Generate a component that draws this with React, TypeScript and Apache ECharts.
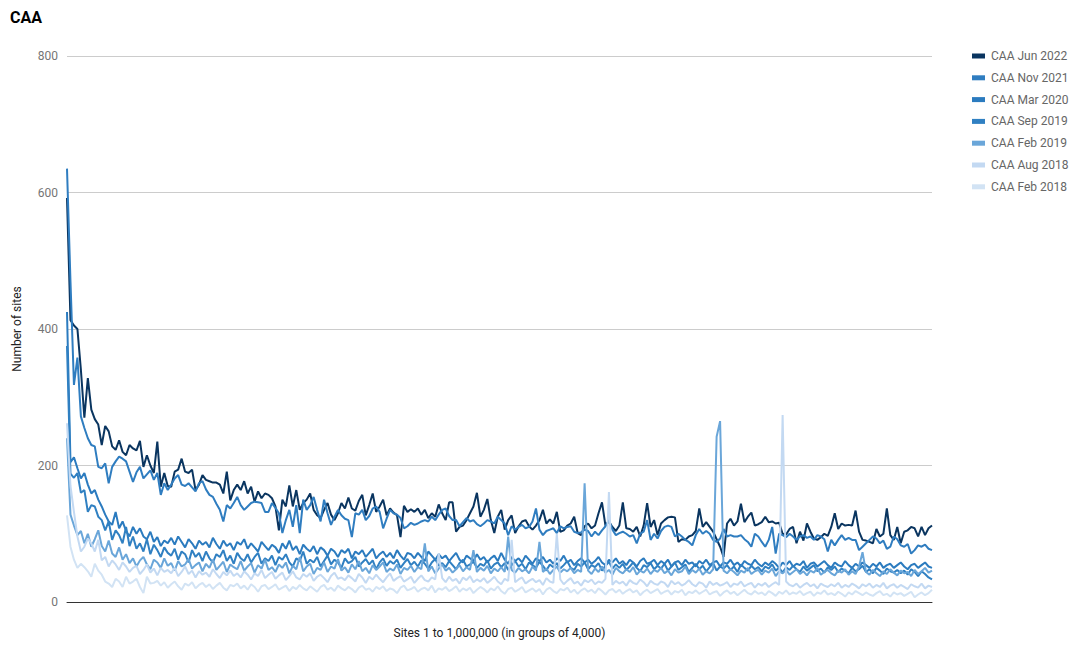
import React, { useEffect, useRef } from "react";
import * as echarts from "echarts";

const seriesNames = ["CAA Jun 2022", "CAA Nov 2021", "CAA Mar 2020", "CAA Sep 2019", "CAA Feb 2019", "CAA Aug 2018", "CAA Feb 2018"];
const seriesColors = ["#0a3560", "#2f7dc0", "#2b7bbf", "#3080c2", "#6aa6d9", "#c3d9f2", "#d2e3f4"];
const yTicks = [0, 200, 400, 600, 800];

const jun2022 = [
  592, 413, 405, 400, 340, 270, 328, 282, 268, 260,
  230, 258, 250, 228, 223, 237, 220, 215, 230, 225,
  222, 236, 198, 215, 200, 189, 235, 169, 189, 170,
  169, 191, 194, 210, 191, 189, 194, 164, 172, 186,
  179, 177, 175, 175, 172, 159, 191, 149, 164, 172,
  164, 177, 159, 169, 147, 162, 152, 159, 157, 152,
  140, 105, 150, 140, 171, 140, 164, 135, 145, 150,
  159, 135, 127, 123, 135, 145,
  128, 120, 130, 145, 137, 153, 137, 134, 148, 157,
  127, 142, 159, 132, 140, 150, 127, 137, 131, 127,
  95, 141, 132, 136, 132, 137, 128, 135, 123, 130,
  125, 143, 130, 120, 146, 146, 103, 110, 112, 120,
  130, 140, 160, 125, 135, 151, 120, 101, 125, 135,
  106, 120, 127, 101, 111, 118, 120, 111, 106, 112,
  120, 135, 115, 121, 115, 132, 103, 105, 112, 115,
  125, 101, 98, 111, 115, 108, 112, 130, 146, 112,
  118, 110, 104, 112, 146, 108,
  107, 103, 110, 96, 112, 145, 110, 120, 98, 115,
  120, 124, 125, 124, 88, 92, 91, 96, 98, 104,
  137, 110, 117, 110, 103, 92, 81, 66, 115, 122,
  112, 118, 144, 117, 125, 131, 112, 114, 117, 125,
  117, 118, 115, 116, 100, 99, 107, 110,
  86, 103, 90, 115, 103, 93, 91, 95, 100, 97,
  110, 130, 107, 115, 112, 113, 112, 134, 103, 91,
  90, 88, 86, 107, 96, 100, 137, 98, 91, 110,
  86, 103, 105, 110, 108, 96, 110, 98, 108, 112,
];

const nov2021 = [
  635, 470, 318, 358, 272, 255, 240, 230, 228, 198,
  196, 203, 174, 198, 206, 213, 210, 206, 191, 176,
  190, 198, 181, 187, 193, 179, 189, 157, 174, 164,
  172, 181, 186, 172, 170, 174, 168, 162, 174, 177,
  165, 157, 154, 144, 135, 118, 142, 137, 145, 154,
  142, 135, 140, 145, 147, 146, 145, 132, 132, 145,
  138, 130, 101, 120, 135, 110, 142, 101, 150, 135,
  142, 154, 135, 118, 150, 130, 113, 125, 135,
  127, 122, 120, 95, 130, 128, 135, 120, 126, 137,
  140, 132, 108, 122, 135, 130, 128, 123, 108, 111,
  116, 113, 115, 118, 120, 118, 125, 120, 128, 135,
  137, 126, 120, 120, 111, 117, 123, 118, 120, 114,
  111, 115, 120, 118, 115, 125, 120, 115, 98, 111,
  106, 110, 113, 108, 110, 118, 137, 106, 98, 104,
  106, 108, 101, 111, 108, 110, 111, 103, 101, 102,
  106, 104, 96, 103, 98, 105, 111, 120, 106, 98,
  101, 103, 100,
  96, 98, 86, 100, 103, 120, 91, 100, 93, 104,
  110, 112, 110, 96, 100, 96, 91, 88, 83, 98,
  107, 100, 104, 100, 91, 88, 93, 107, 96, 98,
  96, 96, 98, 92, 88, 81, 100, 96, 88, 81,
  91, 110, 71, 100, 98, 95, 100, 96, 91, 96,
  98, 94, 96, 91, 98, 96, 92, 74, 91, 83,
  91, 98, 91, 94, 91, 91, 76, 81, 86, 91,
  96, 93, 86, 90, 78, 81, 96, 92, 83, 81,
  85, 71, 76, 83, 81, 84, 78, 76,
];

const mar2020 = [
  425, 205, 212, 196, 181, 189, 172, 159, 164, 150,
  140, 128, 118, 113, 132, 108, 118, 104, 96, 110,
  100, 108, 96, 92, 103, 88, 95, 82, 90, 86,
  94, 84, 96, 88, 80, 92, 86, 78, 90, 84,
  88, 80, 94, 85, 78, 90, 82, 86, 76, 88,
  84, 92, 78, 86, 80, 74, 88, 82, 76, 84,
  80, 72, 86, 78, 90, 76, 82, 70, 84, 78,
  74, 82, 70, 80, 76, 68, 78, 74, 66, 76,
  72, 78, 64, 74, 70, 76, 66, 72, 78, 64,
  70, 74, 66, 72, 64, 76, 68, 62, 72, 70,
  64, 72, 66, 60, 74, 68, 62, 70, 64, 68,
  60, 66, 72, 62, 58, 68, 64, 60, 70, 62,
  66, 58, 64, 68, 60, 72, 62, 56, 66, 60,
  64, 58, 68, 62, 56, 64, 60, 66, 58, 62,
  56, 64, 60, 68, 58, 62, 54, 60, 64, 58,
  62, 56, 60, 66, 58, 54, 62, 58, 64, 56,
  60, 54, 62, 58, 52, 60, 64, 56, 58, 62,
  54, 60, 56, 62, 52, 58, 60, 54, 62, 56,
  58, 52, 60, 56, 62, 54, 58, 60, 52, 58,
  56, 62, 54, 58, 52, 60, 56, 54, 62, 56,
  52, 58, 54, 60, 56, 50, 58, 54, 60, 52,
  56, 54, 60, 50, 56, 58, 52, 56, 60, 54,
  50, 58, 54, 52, 60, 54, 50, 56, 52, 58,
  54, 50, 56, 52, 58, 50, 54, 56, 50, 54,
  58, 52, 48, 54, 56, 50, 54, 58, 52, 50,
];

const sep2019 = [
  375, 188, 182, 189, 160, 164, 132, 142, 140, 125,
  120, 105, 118, 91, 105, 98, 86, 110, 82, 96,
  78, 86, 74, 92, 70, 84, 76, 66, 80, 72,
  68, 78, 62, 74, 70, 58, 76, 66, 72, 60,
  74, 64, 58, 70, 66, 76, 60, 68, 56, 72,
  64, 60, 70, 58, 66, 72, 56, 64, 60, 68,
  54, 66, 62, 70, 58, 52, 64, 60, 74, 56,
  62, 58, 66, 52, 60, 68, 55, 62, 58, 50,
  64, 57, 60, 66, 52, 58, 63, 55, 61, 48,
  58, 64, 53, 60, 56, 62, 50, 57, 63, 54,
  59, 52, 61, 56, 49, 58, 63, 53, 57, 51,
  60, 54, 48, 57, 62, 52, 55, 59, 50, 56,
  53, 61, 49, 55, 58, 51, 57, 47, 54, 60,
  52, 56, 48, 58, 54, 50, 59, 53, 46, 55,
  51, 57, 49, 54, 60, 50, 47, 56, 52, 58,
  48, 54, 51, 57, 46, 53, 59, 49, 55, 50,
  56, 47, 52, 58, 50, 45, 54, 51, 57, 48,
  53, 49, 56, 46, 52, 58, 47, 51, 55, 44,
  50, 56, 48, 53, 45, 51, 57, 46, 52, 49,
  54, 47, 52, 44, 55, 50, 46, 53, 48, 51,
  45, 52, 49, 55, 46, 50, 43, 51, 47, 53,
  48, 44, 52, 46, 50, 54, 45, 49, 43, 51,
  47, 52, 44, 49, 46, 42, 50, 45, 48, 53,
  44, 48, 42, 50, 46, 41, 49, 45, 43, 47,
  42, 46, 40, 48, 44, 38, 45, 41, 36, 33,
];

const feb2019 = [
  240, 128, 112, 98, 104, 86, 100, 81, 92, 105,
  82, 74, 90, 71, 66, 80, 62, 70, 57, 64,
  52, 61, 66, 55, 48, 62, 58, 50, 64, 53,
  57, 46, 60, 52, 55, 63, 49, 54, 58, 45,
  56, 50, 62, 47, 53, 59, 44, 55, 51, 48,
  60, 46, 52, 57, 43, 54, 49, 62, 47, 51,
  44, 55, 50, 58, 42, 53, 48, 66, 45, 52,
  56, 41, 50, 47, 58, 44, 52, 49, 63, 46,
  51, 43, 55, 48, 60, 45, 50, 42, 54, 47,
  52, 58, 44, 49, 46, 55, 41, 50, 47, 53,
  44, 51, 48, 86, 45, 52, 42, 49, 55, 46,
  50, 43, 48, 54, 45, 51, 47, 76, 44, 50,
  46, 53, 42, 49, 45, 51, 44, 96, 47, 43,
  50, 45, 48, 42, 52, 46, 88, 44, 49, 41,
  47, 52, 43, 48, 45, 50, 42, 47, 44, 174,
  46, 41, 49, 44, 52, 43, 47, 40, 50, 45,
  42, 48, 44, 51, 40, 46, 43, 49, 41, 47,
  44, 50, 42, 46, 39, 48, 43, 45, 52, 41,
  47, 43, 49, 40, 45, 42, 48, 242, 265, 46,
  42, 48, 44, 39, 46, 43, 50, 41, 45, 47,
  40, 46, 43, 49, 38, 45, 42, 47, 40, 44,
  48, 41, 45, 39, 46, 43, 50, 40, 44, 47,
  42, 39, 46, 43, 48, 40, 45, 41, 52, 73,
  44, 40, 47, 42, 38, 45, 41, 48, 43, 39,
  46, 42, 44, 38, 47, 41, 45, 50, 43, 46,
];

const aug2018 = [
  262, 170, 132, 96, 74, 81, 93, 86, 74, 91,
  61, 66, 52, 61, 55, 47, 58, 52, 44, 50,
  53, 41, 47, 55, 43, 49, 39, 50, 44, 47,
  42, 50, 38, 44, 52, 41, 46, 36, 45, 40,
  43, 37, 48, 41, 35, 44, 39, 46, 38, 42,
  36, 45, 40, 33, 42, 38, 47, 35, 40, 44,
  34, 39, 43, 32, 38, 45, 36, 33, 41, 37,
  42, 31, 37, 40, 35, 29, 38, 43, 34, 36,
  32, 39, 35, 30, 41, 36, 28, 37, 33, 40,
  34, 29, 36, 42, 31, 35, 38, 30, 33, 37,
  28, 34, 39, 32, 30, 36, 33, 71, 35, 29,
  37, 31, 34, 27, 36, 32, 38, 29, 33, 30,
  35, 28, 32, 37, 30, 26, 34, 31, 91, 29,
  33, 36, 27, 31, 34, 29, 32, 25, 35, 30,
  28, 100, 33, 26, 31, 35, 27, 30, 24, 32,
  29, 33, 26, 30, 28, 34, 161, 25, 31, 27,
  30, 24, 32, 28, 26, 33, 29, 23, 31, 27,
  25, 30, 28, 22, 31, 26, 29, 24, 27, 32,
  26, 23, 29, 27, 21, 30, 25, 28, 24, 26,
  29, 22, 27, 25, 30, 23, 26, 28, 21, 27,
  24, 28, 22, 26, 29, 25, 274, 30, 25, 23,
  27, 21, 25, 28, 23, 26, 20, 27, 24, 22,
  26, 23, 28, 21, 25, 22, 27, 24, 20, 26,
  23, 27, 21, 25, 22, 28, 20, 24, 26, 21,
  25, 22, 19, 26, 23, 21, 27, 20, 24, 22,
];

const feb2018 = [
  127, 81, 62, 50, 56, 51, 45, 37, 56, 46,
  40, 30, 27, 22, 34, 30, 22, 37, 27, 30,
  34, 22, 13, 37, 27, 28, 31, 24, 29, 21,
  26, 30, 23, 18, 27, 24, 29, 20, 25, 28,
  22, 26, 19, 24, 28, 21, 17, 25, 23, 27,
  20, 24, 18, 26, 22, 15, 23, 25, 19, 22,
  26, 18, 21, 24, 16, 22, 19, 25, 20, 17,
  23, 19, 15, 22, 25, 18, 21, 16, 24, 20,
  17, 22, 19, 14, 21, 24, 18, 20, 15, 22,
  19, 23, 16, 20, 18, 13, 21, 24, 17, 19,
  22, 15, 19, 21, 17, 24, 14, 20, 18, 22,
  16, 19, 23, 15, 20, 17, 21, 13, 18, 22,
  19, 14, 20, 17, 23, 16, 12, 19, 21, 15,
  18, 22, 14, 17, 20, 15, 19, 11, 18, 21,
  16, 13, 19, 17, 21, 14, 18, 12, 17, 20,
  15, 18, 13, 20, 16, 11, 17, 19, 14, 18,
  12, 16, 19, 14, 17, 10, 15, 18, 13, 16,
  19, 12, 15, 17, 11, 16, 14, 18, 10, 15,
  13, 17, 12, 15, 18, 11, 14, 16, 9, 14,
  17, 12, 15, 10, 14, 18, 13, 11, 16, 12,
  14, 10, 16, 13, 9, 15, 12, 17, 11, 14,
  12, 16, 10, 13, 15, 9, 14, 12, 17, 11,
  13, 10, 15, 12, 8, 14, 11, 16, 13, 10,
  14, 11, 9, 13, 16, 10, 12, 8, 14, 11,
  13, 9, 12, 15, 7, 11, 14, 10, 13, 18,
];

const allSeries = [jun2022, nov2021, mar2020, sep2019, feb2019, aug2018, feb2018];
const groups = jun2022.map((_, k) => `${k * 4000 + 1}`);

const FONT = "Roboto, Arial, sans-serif";

export default function App() {
  const ref = useRef<HTMLDivElement>(null);
  useEffect(() => {
    if (!ref.current) return;
    const chart = echarts.init(ref.current, undefined, { renderer: "svg" });
    chart.setOption({
      animation: false,
      backgroundColor: "#ffffff",
      textStyle: { fontFamily: FONT },
      title: {
        text: "CAA",
        left: 2,
        top: 1,
        padding: 0,
        textStyle: { fontFamily: FONT, fontSize: 16, fontWeight: "bold", color: "#000000" },
      },
      legend: {
        orient: "vertical",
        left: 959,
        top: 37,
        itemWidth: 13,
        itemHeight: 5,
        itemGap: 9.8,
        icon: "rect",
        data: seriesNames,
        textStyle: { fontFamily: FONT, fontSize: 12, color: "#666666", padding: [0, 0, 0, 1] },
      },
      grid: { left: 59, right: 144, top: 48, bottom: 48, containLabel: false, outerBoundsMode: "none" },
      xAxis: {
        type: "category",
        data: groups,
        boundaryGap: false,
        name: "Sites 1 to 1,000,000 (in groups of 4,000)",
        nameLocation: "middle",
        nameGap: 25,
        nameTextStyle: { fontFamily: FONT, fontSize: 12, color: "#222222" },
        axisLine: { show: true, lineStyle: { color: "#333333", width: 1 } },
        axisTick: { show: false },
        axisLabel: { show: false },
        splitLine: { show: false },
      },
      yAxis: {
        type: "value",
        min: yTicks[0],
        max: yTicks[yTicks.length - 1],
        interval: 200,
        name: "Number of sites",
        nameLocation: "middle",
        nameGap: 44,
        nameTextStyle: { fontFamily: FONT, fontSize: 12, color: "#222222" },
        axisLine: { show: false },
        axisTick: { show: false },
        axisLabel: { fontFamily: FONT, fontSize: 12, color: "#757575", margin: 9 },
        splitLine: { show: true, lineStyle: { color: "#cccccc", width: 1 } },
      },
      series: seriesNames.map((name, k) => ({
        name,
        type: "line",
        data: allSeries[k],
        showSymbol: false,
        symbol: "none",
        color: seriesColors[k],
        lineStyle: { width: 2, color: seriesColors[k] },
        emphasis: { disabled: true },
      })),
    });
    return () => chart.dispose();
  }, []);
  return <div ref={ref} style={{ width: 1068, height: 642 }} />;
}
